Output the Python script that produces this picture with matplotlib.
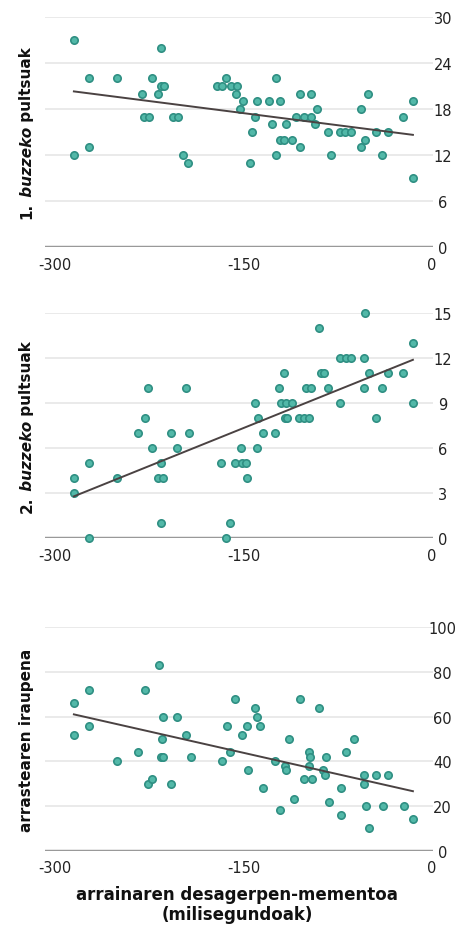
import numpy as np
import matplotlib
matplotlib.use("Agg")
import matplotlib.pyplot as plt

# panel 1: first buzz pulses
x1 = [-285, -285, -273, -273, -251, -231, -229, -225, -223, -218, -216, -213, -216,
      -206, -202, -198, -194, -171, -164, -167, -160, -155, -156, -153, -150, -143,
      -145, -141, -139, -130, -127, -124, -124, -121, -121, -118, -116, -111, -108,
      -105, -105, -102, -96, -96, -93, -91, -83, -80, -73, -69, -64, -56, -56, -53,
      -51, -44, -40, -35, -23, -15, -15]
y1 = [27, 12, 13, 22, 22, 20, 17, 17, 22, 20, 21, 21, 26,
      17, 17, 12, 11, 21, 22, 21, 21, 21, 20, 18, 19, 15,
      11, 17, 19, 19, 16, 22, 12, 19, 14, 14, 16, 14, 17,
      13, 20, 17, 20, 17, 16, 18, 15, 12, 15, 15, 15, 18, 13, 14,
      20, 15, 12, 15, 17, 19, 9]

# panel 2: second buzz pulses
x2 = [-285, -285, -273, -273, -251, -234, -228, -226, -223, -216, -218, -214, -216,
      -208, -203, -196, -193, -168, -164, -161, -157, -151, -148, -152, -147, -141,
      -139, -138, -134, -125, -122, -120, -116, -111, -118, -117, -115, -106, -102,
      -98, -100, -96, -90, -88, -86, -83, -73, -73, -68, -64, -54, -54, -53, -50,
      -44, -40, -35, -23, -15, -15]
y2 = [4, 3, 5, 0, 4, 7, 8, 10, 6, 5, 4, 4, 1,
      7, 6, 10, 7, 5, 0, 1, 5, 5, 5, 6, 4, 9,
      6, 8, 7, 7, 10, 9, 9, 9, 11, 8, 8, 8, 8,
      8, 10, 10, 14, 11, 11, 10, 9, 12, 12, 12, 12, 10, 15, 11,
      8, 10, 11, 11, 13, 9]

# panel 3: attack duration
x3 = [-285, -285, -273, -273, -251, -234, -228, -226, -223, -217, -216, -214, -215,
      -214, -208, -203, -196, -192, -167, -163, -161, -157, -151, -147, -146, -141,
      -139, -137, -134, -125, -121, -117, -116, -114, -110, -105, -102, -98, -97,
      -98, -95, -90, -87, -85, -84, -82, -72, -72, -68, -62, -54, -54, -52, -50,
      -44, -39, -35, -22, -15]
y3 = [66, 52, 72, 56, 40, 44, 72, 30, 32, 83, 42, 42, 50,
      60, 30, 60, 52, 42, 40, 56, 44, 68, 52, 56, 36, 64,
      60, 56, 28, 40, 18, 38, 36, 50, 23, 68, 32, 44, 42,
      38, 32, 64, 36, 34, 42, 22, 28, 16, 44, 50, 34, 30, 20, 10,
      34, 20, 34, 20, 14]

ylabels = [["1.", " buzzeko", " pultsuak"],
           ["2.", " buzzeko", " pultsuak"],
           ["arrastearen iraupena"]]
yticks = [[0, 6, 12, 18, 24, 30], [0, 3, 6, 9, 12, 15], [0, 20, 40, 60, 80, 100]]
xticks = [-300, -150, 0]
xlabel = "arrainaren desagerpen-mementoa\n(milisegundoak)"

W, H = 475, 928
fig = plt.figure(figsize=(W / 100, H / 100), dpi=100)

# axes boxes in pixels: (bottom_px, top_px)
boxes = [(248, 18), (539.3, 314.3), (851.7, 628.3)]
data = [(x1, y1), (x2, y2), (x3, y3)]
left_px, right_px = 45, 433

for (bot, top), (xs, ys), yt in zip(boxes, data, yticks):
    ax = fig.add_axes([left_px / W, 1 - bot / H, (right_px - left_px) / W, (bot - top) / H])
    ax.set_xlim(-308, 1)
    ax.set_ylim(0, yt[-1])
    for v in yt[1:]:
        ax.axhline(v, color="#e8e8e8", lw=1.3, zorder=0)
    ax.axhline(0, color="#999999", lw=2.5, zorder=1)
    ax.scatter(xs, ys, s=28, color="#52b8a8", edgecolor="#2f8f83", linewidth=1.2,
               zorder=3, clip_on=False)
    # linear trend line
    k, b = np.polyfit(xs, ys, 1)
    xl = np.array([min(xs), max(xs)])
    ax.plot(xl, k * xl + b, color="#4a4242", lw=1.4, zorder=4)
    for s in ax.spines.values():
        s.set_visible(False)
    ax.yaxis.tick_right()
    ax.set_yticks(yt)
    ax.set_xticks(xticks)
    ax.set_xticklabels([str(t) for t in xticks])
    ax.tick_params(length=0, labelsize=10.5, colors="#222222")
    ax.tick_params(axis="y", pad=7)
    ax.tick_params(axis="x", pad=7)
    for lab in ax.get_yticklabels():
        lab.set_horizontalalignment("center")
    ax.set_facecolor("none")

# rotated y labels, built from pieces so "buzzeko" can be italic
renderer = fig.canvas.get_renderer()
for (bot, top), pieces in zip(boxes, ylabels):
    styles = ["normal"] * len(pieces)
    if len(pieces) == 3:
        styles[1] = "italic"
    widths = []
    for p, st in zip(pieces, styles):
        t = fig.text(0, 0, p, fontsize=11, fontweight="bold", style=st)
        widths.append(t.get_window_extent(renderer).width)
        t.remove()
    total = sum(widths)
    ypix = (bot + top) / 2 + total / 2  # bottom end of the label
    for p, st, w in zip(pieces, styles, widths):
        fig.text(27 / W, 1 - ypix / H, p, fontsize=11, fontweight="bold", style=st,
                 rotation=90, rotation_mode="anchor", ha="left", va="center",
                 color="#111111")
        ypix -= w

fig.text(237 / W, 1 - 905 / H, xlabel, fontsize=12, fontweight="bold", ha="center",
         va="center", linespacing=1.1, color="#111111")

fig.savefig("out.png", dpi=100)
